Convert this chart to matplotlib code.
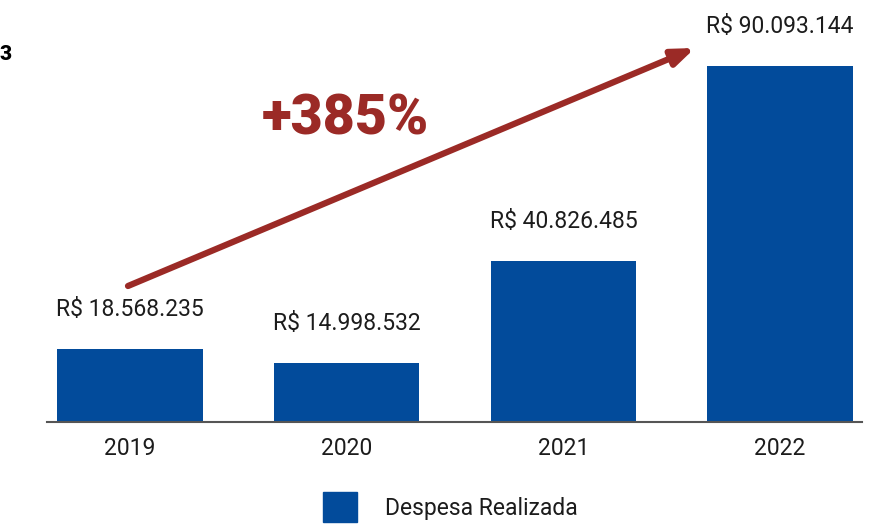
import matplotlib.pyplot as plt
import matplotlib.patches as mpatches

# ===== dados =====
anos = ["2019", "2020", "2021", "2022"]
despesa = [18568235, 14998532, 40826485, 90093144]
rotulos = ["R$ 18.568.235", "R$ 14.998.532", "R$ 40.826.485", "R$ 90.093.144"]
legenda = "Despesa Realizada"
variacao = "+385%"

azul = "#024B9B"
vermelho = "#9B2A26"
texto = "#1c1c1c"

plt.rcParams['font.family'] = ['Roboto', 'DejaVu Sans']

W, H = 890, 526
fig = plt.figure(figsize=(W / 100, H / 100), dpi=100)
# eixo: x 47..862 px, y 0..422 px (linha de base em 422)
ax = fig.add_axes([47 / W, (H - 422) / H, (862 - 47) / W, 422 / H])

x = list(range(len(anos)))
ax.bar(x, despesa, width=0.67, color=azul, zorder=2)

ax.set_xlim(-0.383, 3.378)
ax.set_ylim(0, 106.8e6)

for xi, v, lab in zip(x, despesa, rotulos):
    ax.annotate(lab, (xi, v), xytext=(0, 20), textcoords="offset points",
                ha="center", va="bottom", fontsize=16.5, color=texto)

ax.set_xticks(x)
ax.set_xticklabels(anos, fontsize=16.5, color=texto)
ax.tick_params(axis="x", length=0, pad=11)
ax.set_yticks([])
for s in ["top", "right", "left"]:
    ax.spines[s].set_visible(False)
ax.spines["bottom"].set_color("#555555")
ax.spines["bottom"].set_linewidth(1.5)

# seta de crescimento
ax.annotate("", xy=(695 / W, 1 - 48 / H), xytext=(128 / W, 1 - 286 / H),
            xycoords="figure fraction", textcoords="figure fraction",
            arrowprops=dict(arrowstyle="-|>,head_length=1.3,head_width=0.5",
                            color=vermelho, lw=4.5, shrinkA=0, shrinkB=0))
fig.text(345 / W, 1 - 119 / H, variacao, ha="center", va="center",
         fontsize=40, fontweight="black", color=vermelho)

# resto de texto no canto
fig.text(0, 1 - 55 / H, "3", ha="left", va="center",
         fontsize=15, fontweight="black", color="#000000")

# legenda
h = mpatches.Patch(color=azul)
fig.legend([h], [legenda], loc="center", bbox_to_anchor=(450 / W, 1 - 507 / H),
           frameon=False, fontsize=16.5, handlelength=1.5, handleheight=1.6,
           handletextpad=1.2, labelcolor=texto)

fig.savefig("out.png", dpi=100)
